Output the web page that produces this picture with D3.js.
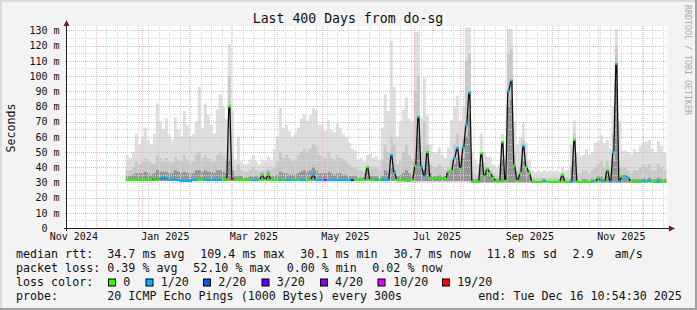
<!DOCTYPE html>
<html>
<head>
<meta charset="utf-8">
<script src="https://cdn.jsdelivr.net/npm/d3@7"></script>
<style>
  body { margin: 0; background: #f3f3f3; }
  svg text { font-family: "DejaVu Sans Mono", monospace; white-space: pre; }
</style>
</head>
<body>
<div id="chart"></div>
<script>
// graph window and data bins (2 days each, first bin starts 2024-12-21)
const startTime = new Date(Date.UTC(2024, 10, 11, 10, 54, 30));
const endTime = new Date(Date.UTC(2025, 11, 16, 10, 54, 30));
const firstBin = new Date(Date.UTC(2024, 11, 21));
const binDays = 2;

// median rtt (ms)
const median = [
  31.5,31.5,31.5,31.8,31.8,31.5,31.5,31.8,31.5,33,
  31.8,32,33.5,32,31.8,31.8,32,31.5,31,31,
  31,31,31.5,31.5,31.5,32,31.8,31.5,31.5,31.8,
  31.5,31.8,31.5,32,80,32,31.5,31.5,31.5,31.5,
  31.5,31.5,31.5,31.5,31.5,35,31.5,35,31.5,31.5,
  31.5,31.5,31.5,31.5,31.5,31.8,31.5,31.5,31.5,31.5,
  31.5,31.5,35,31.5,31.5,31.5,31.5,31.5,31.5,31.5,
  31.5,31.5,31.5,31.5,31.5,31.5,31.5,31.5,31.5,31.5,
  40,31.5,31.5,31.5,31.5,31.5,31.5,31.5,48,36,
  31.5,31.5,31.5,31.2,31.2,31.5,41,73,40,34,
  50,33,32.5,32.5,32.5,32.5,32.5,37,37.5,46,
  52.5,39,53,68,89,30.5,30.5,30.5,49,34,
  39,36,33,30.8,30.8,56.5,31,90,97,41,
  31,36,54,40,36,30.4,30.4,30.4,30.4,31,
  30.4,30.4,30.4,30.4,30.4,35,30.4,30.4,30.5,58,
  30.4,30.4,30.4,30.4,30.4,30.8,30.4,33,31,30.4,
  38,30.5,50,108,30.6,34,34,33,30.4,30.4,
  30.4,30.4,30.8,30.4,31,30.4,30.4,30.6,30.4,30.4
];

// lost pings out of 20 per bin
const lost = [
  0,0,0,0,0,0,0,0,0,0,
  0,1,1,1,1,1,1,1,1,1,
  1,1,1,1,0,0,1,1,1,1,
  1,1,0,0,0,19,0,0,0,0,
  0,0,1,1,0,0,0,0,0,0,
  0,1,0,1,1,0,1,0,1,1,
  0,0,1,1,1,1,10,1,1,1,
  1,1,1,1,1,3,0,0,0,0,
  0,0,0,1,0,1,1,1,1,1,
  0,0,0,0,0,0,0,1,1,1,
  0,0,0,0,0,0,0,0,0,1,
  1,0,1,1,1,0,0,0,0,0,
  0,0,0,0,0,0,0,1,1,0,
  0,0,1,0,0,0,0,0,0,1,
  0,0,0,0,0,0,0,0,1,0,
  0,0,0,0,0,1,0,0,1,0,
  0,1,1,1,1,0,1,1,0,0,
  0,0,1,0,1,0,0,1,0,0
];

// smoke: lowest ping, dark band top, mid band top, highest ping (ms)
const smokeLow = [
  31,31,31,31,31,31,31,31,31,31, 31,31,31,31,31,31,31,31,30.5,30.5,
  30.5,30.5,31,31,31,31,31,31,31,31, 31,31,31,31,31,31,31,31,31,31,
  31,31,31,31,31,31,31,31,31,31, 31,31,31,31,31,31,31,31,31,31,
  31,31,31,31,31,31,31,31,31,31, 31,31,31,31,31,31,31,31,31,31,
  31,31,31,31,31,31,31,31,31,31, 30.8,30.8,30.8,30.8,30.8,30.8,30.8,30.8,30.8,30.8,
  30.8,30.8,30.8,30.8,30.8,30.8,30.8,30.8,30.8,30.8, 30.8,30.8,30.8,30.8,30.8,30,30,30,30,30,
  30,30,30,30,30,30,30,30,30,30, 30,30,30,30,30,30,30,30,30,30,
  30,30,30,30,30,30,30,30,30,30, 30,30,30,30,30,30,30,30,30,30,
  30,30,30,30,30,30,30,30,30,30, 30,30,30,30,30,30,30,30,30,30
];
const smokeDark = [
  34,34,35,36,36,36,37,36,35,36, 38,37,37,37,36,36,38,37,36,37,
  36,36,36,38,38,37,38,37,37,36, 38,38,37,36,45,38,34,34,34,33,
  33,34,34,34,33,36,34,37,34,34, 35,37,36,36,35,35,35,36,37,38,
  37,38,40,38,36,36,36,37,36,35, 36,36,35,35,34,34,34,33,33,33,
  38,34,34,34,33,34,38,36,40,38, 34,35,36,38,36,35,45,60,40,38,
  45,36,34,34,35,34,34,36,38,42, 46,38,46,60,75,32,32,32,42,34,
  36,35,34,32,32,45,32,80,85,40, 33,35,45,38,35,31,31,31,31,32,
  31,31,31,31,31,34,31,31,32,45, 31,31,32,32,31,32,32,34,34,32,
  35,32,45,95,33,33,33,33,32,32, 32,32,33,32,33,32,32,33,32,32
];
const smokeMid = [
  38,38,40,44,42,44,46,45,43,42, 48,46,44,46,44,43,47,45,44,48,
  45,43,44,48,50,46,48,46,45,44, 48,50,47,45,100,50,38,42,38,37,
  37,38,40,38,37,38,38,39,38,40, 44,50,46,48,46,44,45,48,50,52,
  50,52,55,54,48,47,46,50,46,45, 48,46,45,44,42,40,40,38,38,37,
  40,40,39,40,38,45,55,50,60,55, 42,45,50,55,48,45,90,100,50,70,
  55,42,40,40,42,40,38,40,45,55, 62,48,60,110,115,36,35,35,50,40,
  40,38,36,34,34,55,34,115,118,48, 38,40,58,44,38,33,33,33,33,33,
  33,33,33,33,33,36,33,33,40,62, 36,36,38,38,36,38,40,42,44,40,
  44,38,62,120,40,40,40,38,36,38, 38,40,42,40,42,38,38,42,40,38
];
const smokeHigh = [
  48,46,50,62,55,60,66,58,55,62, 82,70,65,72,62,58,73,65,60,77,
  68,60,62,70,93,66,82,75,68,62, 78,88,80,72,121,78,45,60,44,42,
  42,45,48,44,42,45,44,47,45,52, 60,79,66,68,64,60,62,66,72,75,
  70,74,79,78,68,68,64,71,65,63, 69,66,62,60,56,52,51,45,46,44,
  48,49,46,47,45,66,88,77,123,93, 60,70,78,86,72,70,129,129,72,99,
  74,55,50,49,53,48,46,53,71,80, 87,70,80,132,132,50,45,42,62,50,
  47,47,42,40,42,62,45,131,131,70, 55,60,69,56,45,38,37,38,37,38,
  37,38,37,38,37,40,38,38,55,71, 50,47,48,52,48,50,56,57,61,56,
  58,52,80,131,70,51,51,50,48,52, 50,54,56,57,58,52,50,57,54,50
];

const yTicks = [0, 10, 20, 30, 40, 50, 60, 70, 80, 90, 100, 110, 120, 130];
const lossSteps = [0, 1, 2, 3, 4, 10, 19];
const lossLabels = ['0', '1/20', '2/20', '3/20', '4/20', '10/20', '19/20'];
const lossColors = ['#26ff00', '#00b8ff', '#0059ff', '#5e00ff', '#7e00ff', '#dd00ff', '#ff0000'];

const width = 697, height = 310;
const plot = { left: 66.5, right: 666.5, top: 28, bottom: 228 };

const x = d3.scaleUtc().domain([startTime, endTime]).range([plot.left, plot.right]);
const y = d3.scaleLinear().domain([0, 131.6]).range([plot.bottom, plot.top]);

const lossColor = (n) => {
  let c = lossColors[0];
  lossSteps.forEach((s, k) => { if (n >= s) c = lossColors[k]; });
  return c;
};

// bins as points for step areas
const bins = median.map((m, i) => ({
  t: d3.utcDay.offset(firstBin, i * binDays),
  med: m, lost: lost[i],
  lo: smokeLow[i], dark: smokeDark[i], mid: smokeMid[i], hi: smokeHigh[i]
}));
const last = bins[bins.length - 1];
const stepData = bins.concat([Object.assign({}, last, { t: endTime })]);
const binEnd = (i) => (i + 1 < bins.length ? bins[i + 1].t : endTime);

const svg = d3.select('#chart').append('svg')
  .attr('width', width).attr('height', height);

svg.append('rect').attr('width', width).attr('height', height).attr('fill', '#f3f3f3');
// frame shading
svg.append('path').attr('d', `M1,${height} V1 H${width}`)
  .attr('fill', 'none').attr('stroke', '#dcdcdc').attr('stroke-width', 2);
svg.append('path').attr('d', `M0,${height - 1} H${width - 1} V0`)
  .attr('fill', 'none').attr('stroke', '#a0a0a0').attr('stroke-width', 2);

svg.append('rect')
  .attr('x', plot.left).attr('y', 26)
  .attr('width', plot.right - plot.left + 1).attr('height', plot.bottom - 26)
  .attr('fill', '#ffffff');

// smoke
const g = svg.append('g');
const smokeLayers = [['hi', '#dedede'], ['mid', '#c8c8c8'], ['dark', '#959595']];
smokeLayers.forEach(([key, color]) => {
  const area = d3.area()
    .curve(d3.curveStepAfter)
    .x((d) => x(d.t))
    .y0((d) => y(d.lo))
    .y1((d) => y(d[key]));
  g.append('path').datum(stepData).attr('d', area).attr('fill', color);
});

// grid
const grid = svg.append('g').attr('shape-rendering', 'crispEdges');
const gridMinor = '#d6d6d6', gridMajor = '#f3acac';
d3.range(5, 131, 10).forEach((v) => {
  grid.append('line')
    .attr('x1', plot.left).attr('x2', plot.right).attr('y1', Math.round(y(v)) + 0.5).attr('y2', Math.round(y(v)) + 0.5)
    .attr('stroke', gridMinor).attr('stroke-dasharray', '1,1');
});
d3.utcSunday.range(startTime, endTime).forEach((d) => {
  const xx = Math.round(x(d)) + 0.5;
  grid.append('line')
    .attr('x1', xx).attr('x2', xx).attr('y1', plot.top - 2).attr('y2', plot.bottom + 2)
    .attr('stroke', gridMinor).attr('stroke-dasharray', '1,1');
});
yTicks.filter((v) => v > 0).forEach((v) => {
  grid.append('line')
    .attr('x1', plot.left - 2).attr('x2', plot.right).attr('y1', Math.round(y(v)) + 0.5).attr('y2', Math.round(y(v)) + 0.5)
    .attr('stroke', gridMajor).attr('stroke-dasharray', '1,1');
});
d3.utcMonth.range(startTime, endTime).forEach((d) => {
  const xx = Math.round(x(d)) + 0.5;
  grid.append('line')
    .attr('x1', xx).attr('x2', xx).attr('y1', plot.top - 2).attr('y2', plot.bottom + 4)
    .attr('stroke', '#f5bcbc').attr('stroke-dasharray', '1,1');
});

// median: thin black line with steep jumps between bins, then loss-coloured segments
const medPts = [];
bins.forEach((d, i) => {
  const x0 = x(d.t), x1 = x(binEnd(i));
  medPts.push([x0 + 1, y(d.med)], [x1 - 1, y(d.med)]);
});
svg.append('path').datum(medPts)
  .attr('d', d3.line())
  .attr('fill', 'none').attr('stroke', '#111').attr('stroke-width', 1.3);
svg.append('g').selectAll('line').data(bins).enter().append('line')
  .attr('x1', (d) => x(d.t))
  .attr('x2', (d, i) => x(binEnd(i)))
  .attr('y1', (d) => y(d.med))
  .attr('y2', (d) => y(d.med))
  .attr('stroke', (d) => lossColor(d.lost))
  .attr('stroke-width', 2.2);

// axes
const axisColor = '#222', arrowColor = '#7a1c1c';
svg.append('line').attr('x1', plot.left).attr('x2', plot.left).attr('y1', plot.bottom + 3).attr('y2', 24)
  .attr('stroke', axisColor).attr('shape-rendering', 'crispEdges');
svg.append('line').attr('x1', plot.left - 3).attr('x2', 670).attr('y1', plot.bottom + 0.5).attr('y2', plot.bottom + 0.5)
  .attr('stroke', axisColor).attr('shape-rendering', 'crispEdges');
svg.append('path').attr('d', 'M63.5,26 L69.5,26 L66.5,20 Z').attr('fill', arrowColor);
svg.append('path').attr('d', 'M669,225.5 L669,231.5 L675,228.5 Z').attr('fill', arrowColor);

// y labels: "0" sits two character cells left of the " m" labels
const yAxis = d3.axisLeft(y).tickValues(yTicks).tickSize(0).tickPadding(7)
  .tickFormat((d) => (d === 0 ? '0' : d + ' m'));
svg.append('g').attr('transform', `translate(${plot.left},0)`).call(yAxis)
  .call((s) => s.select('.domain').remove())
  .call((s) => s.selectAll('.tick').filter((d) => d === 0).select('text').attr('dx', -12))
  .selectAll('text').attr('font-family', '"DejaVu Sans Mono", monospace').attr('font-size', 10).attr('fill', '#111');

const labelDates = d3.utcMonth.every(2).range(d3.utcMonth.floor(startTime), endTime)
  .map((d) => d3.utcDay.offset(d, 15));
const xAxis = d3.axisBottom(x).tickValues(labelDates).tickSize(0).tickPadding(5)
  .tickFormat(d3.utcFormat('%b %Y'));
svg.append('g').attr('transform', `translate(0,${plot.bottom})`).call(xAxis)
  .call((s) => s.select('.domain').remove())
  .selectAll('text').attr('font-family', '"DejaVu Sans Mono", monospace').attr('font-size', 10).attr('fill', '#111');

// titles
svg.append('text').attr('x', 348).attr('y', 22.5).attr('text-anchor', 'middle')
  .attr('font-size', 13.2).attr('fill', '#111').text('Last 400 Days from do-sg');
svg.append('text').attr('transform', 'translate(14.5,128) rotate(-90)').attr('text-anchor', 'middle')
  .attr('font-size', 11.6).attr('fill', '#111').text('Seconds');
svg.append('text').attr('transform', 'translate(684.5,5) rotate(90)')
  .attr('font-size', 8.3).attr('fill', '#aaaaaa').text('RRDTOOL / TOBI OETIKER');

// legend
const legend = svg.append('g').attr('font-size', 11.66).attr('fill', '#111');
const put = (xx, yy, s) => legend.append('text').attr('x', xx).attr('y', yy).text(s);
put(16, 258, 'median rtt:');
put(107.3, 258, '34.7 ms avg');
put(200.3, 258, '109.4 ms max');
put(300.3, 258, '30.1 ms min');
put(393.5, 258, '30.7 ms now');
put(486.7, 258, '11.8 ms sd');
put(572.5, 258, '2.9   am/s');
put(16, 272, 'packet loss:');
put(107.3, 272, '0.39 % avg');
put(193.3, 272, '52.10 % max');
put(286.7, 272, '0.00 % min');
put(372.3, 272, '0.02 % now');
put(16, 286, 'loss color:');
const boxX = [108.5, 146, 203.5, 262, 320.5, 378, 442.5];
const labelX = [123.3, 160.7, 218.3, 276.7, 335, 393.3, 457.3];
lossLabels.forEach((l, k) => {
  legend.append('rect').attr('x', boxX[k]).attr('y', 279).attr('width', 7).attr('height', 7)
    .attr('fill', lossColors[k]).attr('stroke', '#000').attr('stroke-width', 1);
  put(labelX[k], 286, l);
});
put(16, 300, 'probe:');
put(107.3, 300, '20 ICMP Echo Pings (1000 Bytes) every 300s');
put(478.3, 300, 'end: Tue Dec 16 10:54:30 2025');
</script>
</body>
</html>
